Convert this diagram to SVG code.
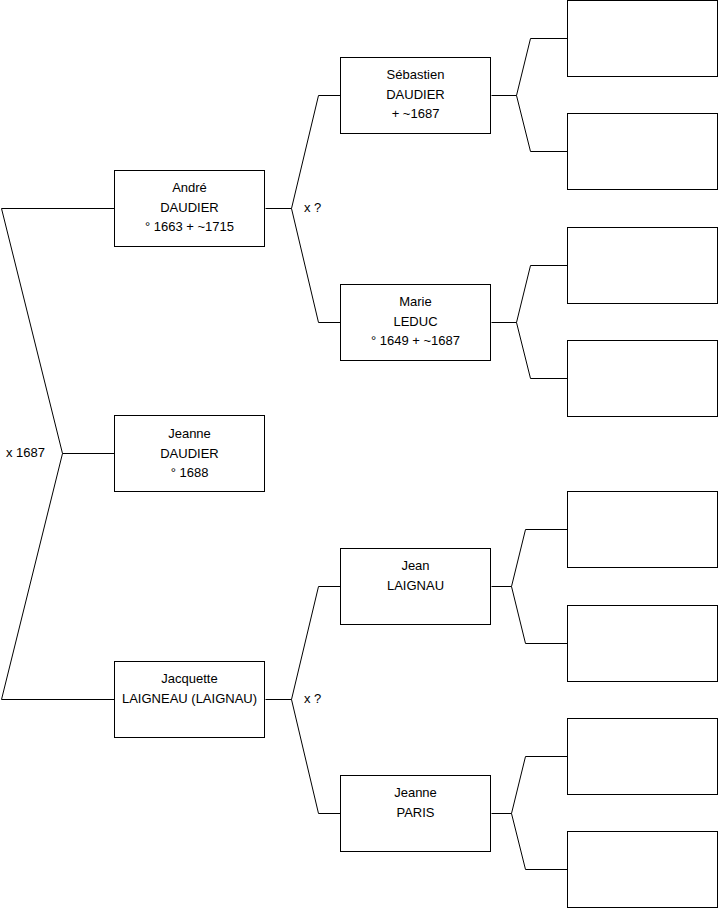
<svg xmlns="http://www.w3.org/2000/svg" width="719" height="908" viewBox="0 0 719 908">
<style>
.box{fill:#fff;stroke:#000;stroke-width:1}
.c{fill:none;stroke:#000;stroke-width:1}
text{font-family:"Liberation Sans",Arial,sans-serif;font-size:13px;fill:#000}
.m{text-anchor:middle}
</style>
<rect width="719" height="908" fill="#fff"/>
<g transform="translate(0.5,0.5)">
<g id="connectors">
<path class="c" d="M114,453 H62 M114,208 H1 L62,453 L1,699 H114"/>
<path class="c" d="M265,208 H291 M341,95 H318 L291,208 L318,322 H341"/>
<path class="c" d="M265,699 H291 M341,586 H318 L291,699 L318,813 H341"/>
<path class="c" d="M491,95 H516 M567,38 H530 L516,95 L530,151 H567"/>
<path class="c" d="M491,322 H516 M567,265 H530 L516,322 L530,378 H567"/>
<path class="c" d="M491,586 H511 M567,529 H525 L511,586 L525,643 H567"/>
<path class="c" d="M491,813 H511 M567,756 H525 L511,813 L525,869 H567"/>
<text x="303.5" y="211.5">x ?</text>
<text x="303.5" y="702.5">x ?</text>
<text x="5.5" y="456">x 1687</text>
</g>
<g id="andre">
<rect class="box" x="114" y="170" width="150" height="76"/>
<text class="m" x="189" y="191">André</text>
<text class="m" x="189" y="211">DAUDIER</text>
<text class="m" x="189" y="230.5">° 1663 + ~1715</text>
</g>
<g id="jeanne-daudier">
<rect class="box" x="114" y="415" width="150" height="76"/>
<text class="m" x="189" y="437">Jeanne</text>
<text class="m" x="189" y="457">DAUDIER</text>
<text class="m" x="189" y="476.5">° 1688</text>
</g>
<g id="jacquette">
<rect class="box" x="114" y="661" width="150" height="76"/>
<text class="m" x="189" y="682">Jacquette</text>
<text class="m" x="189" y="702">LAIGNEAU (LAIGNAU)</text>
</g>
<g id="sebastien">
<rect class="box" x="340" y="57" width="150" height="76"/>
<text class="m" x="415" y="78">Sébastien</text>
<text class="m" x="415" y="98">DAUDIER</text>
<text class="m" x="415" y="117.5"> + ~1687</text>
</g>
<g id="marie">
<rect class="box" x="340" y="284" width="150" height="76"/>
<text class="m" x="415" y="305">Marie</text>
<text class="m" x="415" y="325">LEDUC</text>
<text class="m" x="415" y="344.5">° 1649 + ~1687</text>
</g>
<g id="jean">
<rect class="box" x="340" y="548" width="150" height="76"/>
<text class="m" x="415" y="569">Jean</text>
<text class="m" x="415" y="589">LAIGNAU</text>
</g>
<g id="jeanne-paris">
<rect class="box" x="340" y="775" width="150" height="76"/>
<text class="m" x="415" y="796">Jeanne</text>
<text class="m" x="415" y="816">PARIS</text>
</g>
<g id="p1"><rect class="box" x="567" y="0" width="150" height="76"/></g>
<g id="p2"><rect class="box" x="567" y="113" width="150" height="76"/></g>
<g id="p3"><rect class="box" x="567" y="227" width="150" height="76"/></g>
<g id="p4"><rect class="box" x="567" y="340" width="150" height="76"/></g>
<g id="p5"><rect class="box" x="567" y="491" width="150" height="76"/></g>
<g id="p6"><rect class="box" x="567" y="605" width="150" height="76"/></g>
<g id="p7"><rect class="box" x="567" y="718" width="150" height="76"/></g>
<g id="p8"><rect class="box" x="567" y="831" width="150" height="76"/></g>
</g>
</svg>
